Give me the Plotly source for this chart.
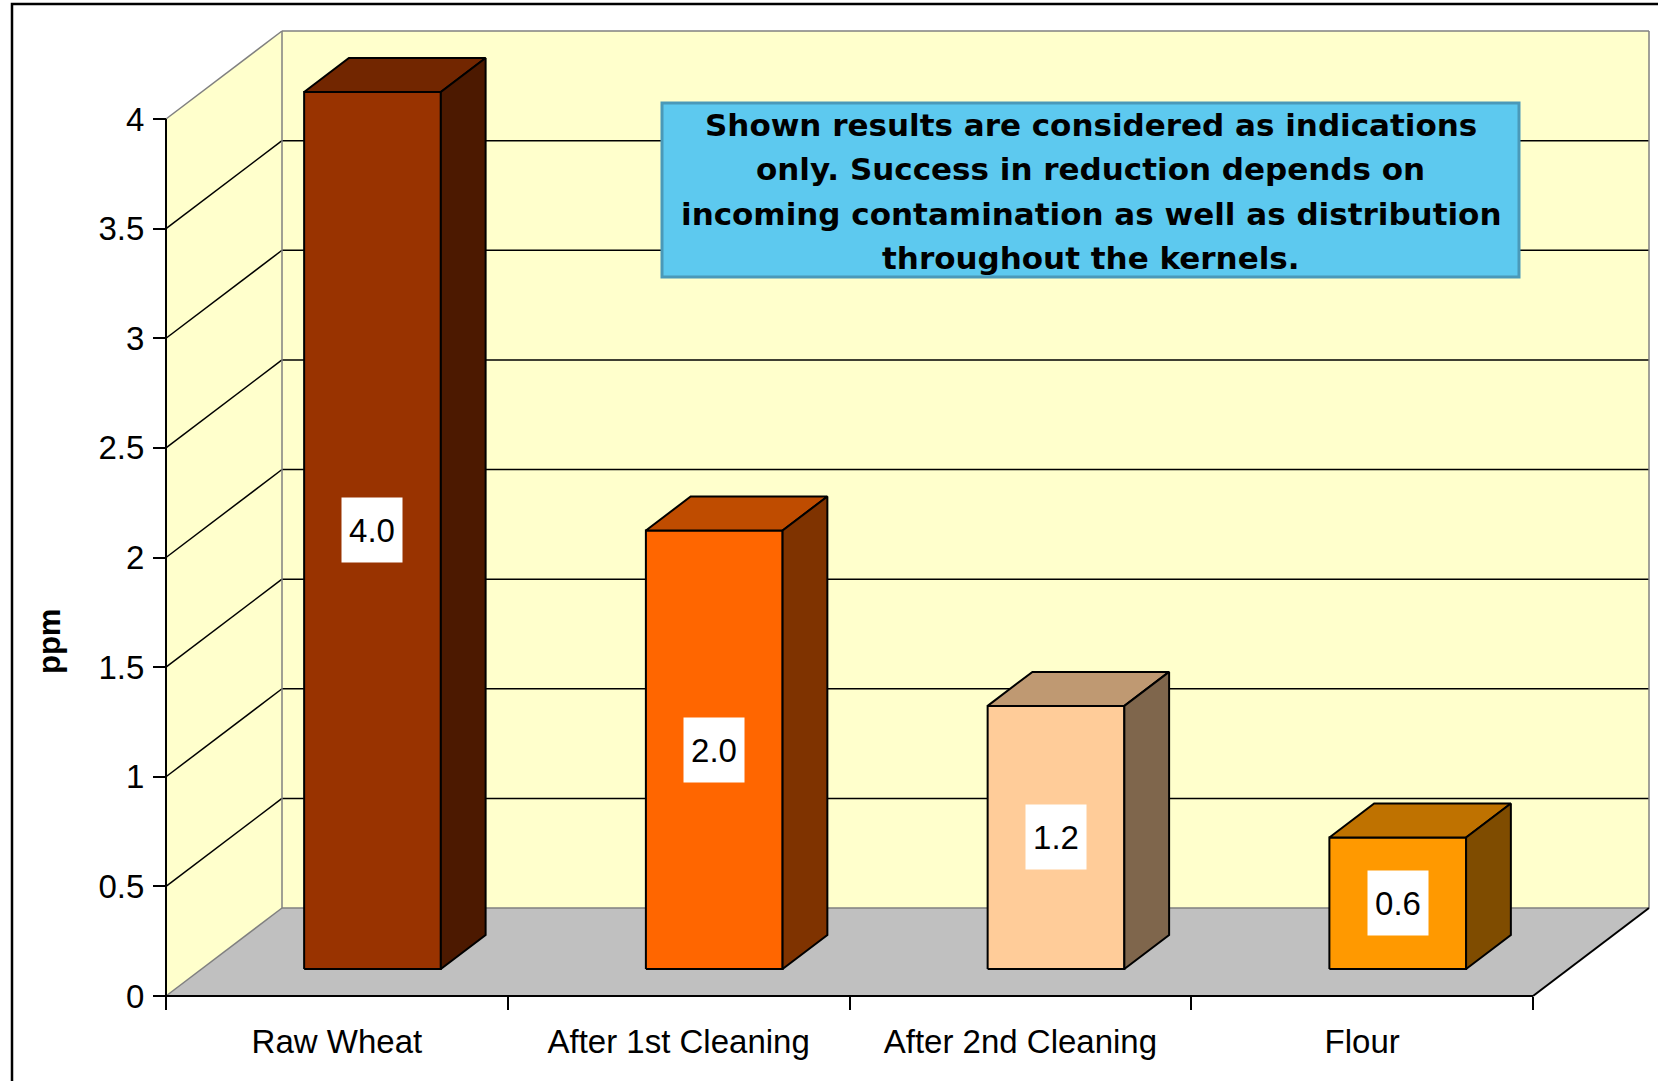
import plotly.graph_objects as go

# ---- data -------------------------------------------------------------
CATEGORIES = ["Raw Wheat", "After 1st Cleaning", "After 2nd Cleaning", "Flour"]
PPM = [4.0, 2.0, 1.2, 0.6]
BAR_COLORS = ["#993300", "#FF6600", "#FFCC99", "#FF9900"]
Y_TICKS = [0, 0.5, 1, 1.5, 2, 2.5, 3, 3.5, 4]
Y_TICK_TEXT = ["0", "0.5", "1", "1.5", "2", "2.5", "3", "3.5", "4"]
AXIS_TITLE = "ppm"
NOTE_LINES = [
    "Shown results are considered as indications",
    "only. Success in reduction depends on",
    "incoming contamination as well as distribution",
    "throughout the kernels.",
]

# ---- figure geometry (oblique 3-D projection) -------------------------
W, H = 1658, 1081
ORIGIN_PX = (166, 996)        # pixel position of the front-left floor corner
X_UNIT = 341.75               # pixels per category
Y_UNIT = 219.25               # pixels per ppm
DEPTH_PX = (116, 88)          # screen offset of the full depth of the box
DX = DEPTH_PX[0] / X_UNIT     # depth offset in x data units
DY = DEPTH_PX[1] / Y_UNIT     # depth offset in y data units
BAR_W = 0.40                  # bar width in category units
BAR_D0, BAR_D1 = 0.307, 0.693 # bar front / back as fraction of the depth

X_LO = -0.5
X_HI = len(CATEGORIES) - 0.5
Y_TOP = Y_TICKS[-1]

X_RANGE = [X_LO - ORIGIN_PX[0] / X_UNIT, X_LO + (W - ORIGIN_PX[0]) / X_UNIT]
Y_RANGE = [-(H - ORIGIN_PX[1]) / Y_UNIT, ORIGIN_PX[1] / Y_UNIT]

WALL = "#FFFFCC"
FLOOR = "#C0C0C0"
EDGE_GRAY = "#808080"
FONT = "Liberation Sans, Arial, sans-serif"


def shade(hex_color, f):
    h = hex_color.lstrip("#")
    r, g, b = (int(h[i:i + 2], 16) for i in (0, 2, 4))
    return "#{:02X}{:02X}{:02X}".format(int(r * f), int(g * f), int(b * f))


fig = go.Figure()


def polygon(xs, ys, fill, line_color=None, line_width=0):
    fig.add_trace(go.Scatter(
        x=list(xs) + [xs[0]], y=list(ys) + [ys[0]],
        mode="lines", fill="toself", fillcolor=fill,
        line=dict(color=line_color or fill, width=line_width),
        hoverinfo="skip", showlegend=False,
    ))


def segments(pairs, color, width):
    xs, ys = [], []
    for (x0, y0), (x1, y1) in pairs:
        xs += [x0, x1, None]
        ys += [y0, y1, None]
    fig.add_trace(go.Scatter(
        x=xs, y=ys, mode="lines", line=dict(color=color, width=width),
        hoverinfo="skip", showlegend=False,
    ))


# walls and floor
polygon([X_LO, X_LO, X_LO + DX, X_LO + DX], [0, Y_TOP, Y_TOP + DY, DY], WALL)
polygon([X_LO + DX, X_HI + DX, X_HI + DX, X_LO + DX], [DY, DY, Y_TOP + DY, Y_TOP + DY], WALL)
polygon([X_LO, X_HI, X_HI + DX, X_LO + DX], [0, 0, DY, DY], FLOOR)

# gridlines on the side and back walls
inner = [t for t in Y_TICKS if 0 < t < Y_TOP]
segments([((X_LO, t), (X_LO + DX, t + DY)) for t in inner]
         + [((X_LO + DX, t + DY), (X_HI + DX, t + DY)) for t in inner], "black", 1.5)

# wall outlines
segments([
    ((X_LO, Y_TOP), (X_LO + DX, Y_TOP + DY)),
    ((X_LO + DX, Y_TOP + DY), (X_HI + DX, Y_TOP + DY)),
    ((X_HI + DX, Y_TOP + DY), (X_HI + DX, DY)),
    ((X_LO + DX, Y_TOP + DY), (X_LO + DX, DY)),
    ((X_LO + DX, DY), (X_HI + DX, DY)),
    ((X_LO, 0), (X_LO + DX, DY)),
], EDGE_GRAY, 1.5)

# front axis edges
segments([
    ((X_LO, 0), (X_LO, Y_TOP)),
    ((X_LO, 0), (X_HI, 0)),
    ((X_HI, 0), (X_HI + DX, DY)),
], "black", 2)

# bars
for i, (v, c) in enumerate(zip(PPM, BAR_COLORS)):
    xl = i - BAR_W / 2 + BAR_D0 * DX
    xr = i + BAR_W / 2 + BAR_D0 * DX
    yb = BAR_D0 * DY
    yt = v + BAR_D0 * DY
    ddx = (BAR_D1 - BAR_D0) * DX
    ddy = (BAR_D1 - BAR_D0) * DY
    polygon([xl, xr, xr, xl], [yb, yb, yt, yt], c, "black", 2)
    polygon([xl, xr, xr + ddx, xl + ddx], [yt, yt, yt + ddy, yt + ddy], shade(c, 0.75), "black", 2)
    polygon([xr, xr + ddx, xr + ddx, xr], [yb, yb + ddy, yt + ddy, yt], shade(c, 0.5), "black", 2)
    fig.add_annotation(
        x=i + BAR_D0 * DX, y=v / 2 + BAR_D0 * DY, text=f"{v:.1f}",
        showarrow=False, bgcolor="white", borderpad=7, width=46, height=50,
        xanchor="center", yanchor="middle",
        font=dict(family=FONT, size=33, color="black"),
    )

# note box
fig.add_shape(type="rect", xref="paper", yref="paper",
              x0=662 / W, x1=1519 / W, y0=1 - 277 / H, y1=1 - 103 / H,
              fillcolor="#5DC9EF", line=dict(color="#4A99B9", width=3), layer="above")
for k, line in enumerate(NOTE_LINES):
    fig.add_annotation(
        xref="paper", yref="paper", x=1090.5 / W, y=1 - (125 + 44.4 * k) / H,
        xanchor="center", yanchor="middle",
        text=f"<b>{line}</b>", showarrow=False,
        font=dict(family="DejaVu Sans, Verdana, sans-serif", size=31, color="black"),
    )

# y-axis title
fig.add_annotation(
    xref="paper", yref="paper", x=49 / W, y=1 - 642 / H, text=f"<b>{AXIS_TITLE}</b>",
    xanchor="center", yanchor="middle",
    textangle=-90, showarrow=False, font=dict(family=FONT, size=31, color="black"),
)

# outer chart border
fig.add_shape(type="rect", xref="paper", yref="paper",
              x0=12 / W, x1=1.2, y0=-0.2, y1=1 - 4 / H,
              line=dict(color="black", width=2.5), layer="above")

fig.update_layout(
    template="none",
    width=W, height=H,
    margin=dict(l=0, r=0, t=0, b=0, autoexpand=False),
    paper_bgcolor="white", plot_bgcolor="white",
    showlegend=False,
    xaxis=dict(
        range=X_RANGE, domain=[0, 1], anchor="free", position=(H - ORIGIN_PX[1]) / H,
        tickvals=list(range(len(CATEGORIES))), ticktext=CATEGORIES,
        ticks="", showline=False, showgrid=False, zeroline=False, automargin=False,
        tickfont=dict(family=FONT, size=33, color="black"), ticklabelstandoff=23,
        minor=dict(tickvals=[X_LO + k for k in range(len(CATEGORIES) + 1)],
                   ticks="outside", ticklen=13, tickwidth=2, tickcolor="black", showgrid=False),
    ),
    yaxis=dict(
        range=Y_RANGE, domain=[0, 1], anchor="free", position=ORIGIN_PX[0] / W,
        tickvals=Y_TICKS, ticktext=Y_TICK_TEXT,
        ticks="outside", ticklen=13, tickwidth=2, tickcolor="black",
        showline=False, showgrid=False, zeroline=False, automargin=False,
        tickfont=dict(family=FONT, size=33, color="black"), ticklabelstandoff=2,
    ),
)

fig.write_html("out.html")
